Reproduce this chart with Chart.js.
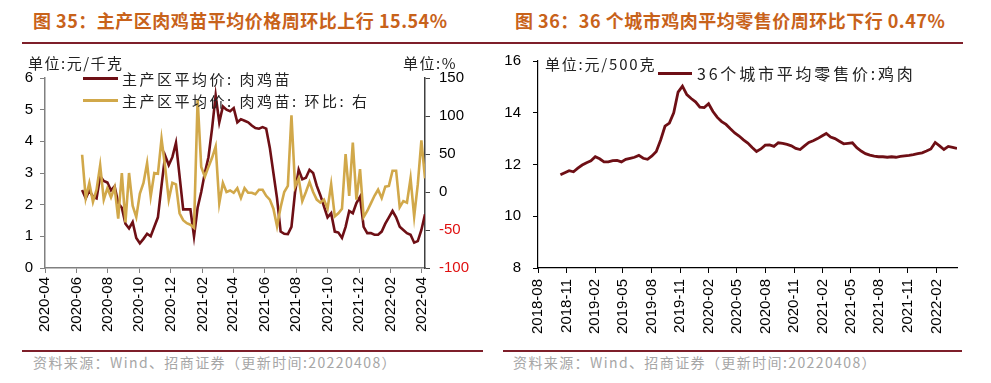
<!DOCTYPE html>
<html><head><meta charset="utf-8">
<script src="https://cdn.jsdelivr.net/npm/chart.js@4.4.1/dist/chart.umd.min.js"></script>
<style>
body{margin:0;width:991px;height:383px;background:#fff;position:relative;overflow:hidden;font-family:"Noto Sans CJK SC",sans-serif;}
.abs{position:absolute;white-space:nowrap;line-height:1;}
.title{font-weight:bold;font-size:18px;letter-spacing:0.5px;color:#C8621A;}
.rule{position:absolute;height:2px;background:#7E1F2A;}
.src{font-size:14px;letter-spacing:1.4px;color:#A6A6A6;}
.unit{font-size:15px;color:#222;letter-spacing:1.5px;}
.leg{font-size:15px;color:#222;letter-spacing:2.5px;}
.sw{position:absolute;height:3px;}
canvas{position:absolute;}
</style></head><body>
<div class="abs title" style="left:33px;top:11px;">图 35：主产区肉鸡苗平均价格周环比上行 15.54%</div>
<div class="abs title" style="left:515px;top:11px;">图 36：36 个城市鸡肉平均零售价周环比下行 0.47%</div>
<div class="rule" style="left:22px;top:42px;width:941px;height:1.5px;"></div>
<div class="rule" style="left:22px;top:350px;width:461px;"></div>
<div class="rule" style="left:503px;top:350px;width:459px;"></div>
<div class="abs src" style="left:33px;top:355px;">资料来源：Wind、招商证券（更新时间:20220408）</div>
<div class="abs src" style="left:513px;top:355px;">资料来源：Wind、招商证券（更新时间:20220408）</div>

<canvas id="c1" width="495" height="300" style="left:0;top:50px;"></canvas>
<canvas id="c2" width="496" height="310" style="left:495px;top:40px;"></canvas>

<div class="abs unit" style="left:28px;top:55px;">单位:元/千克</div>
<div class="abs unit" style="left:403px;top:55px;">单位:%</div>
<div class="sw" style="left:83px;top:77px;width:35px;background:#6E0F15;"></div>
<div class="abs leg" style="left:122px;top:71px;">主产区平均价: 肉鸡苗</div>
<div class="sw" style="left:83px;top:99px;width:35px;background:#D1A84A;"></div>
<div class="abs leg" style="left:122px;top:93px;">主产区平均价: 肉鸡苗: 环比: 右</div>

<div class="abs unit" style="left:545px;top:56px;letter-spacing:1.8px;">单位:元/500克</div>
<div class="sw" style="left:658px;top:72px;width:34px;background:#6E0F15;"></div>
<div class="abs leg" style="left:697px;top:65px;font-size:16px;letter-spacing:2.8px;">36个城市平均零售价:鸡肉</div>

<script>
// ---- Data: left chart (weekly, last week 2022-04-08) ----
const leftTickLabels = ['2020-04','2020-06','2020-08','2020-10','2020-12','2021-02','2021-04','2021-06','2021-08','2021-10','2021-12','2022-02','2022-04'];
const leftLastDate = '2022-04-08';
const chickPrice = [2.46,2.2,2.45,2.25,2.2,2.9,2.75,2.7,2.45,2.58,2.05,1.9,1.4,1.25,1.45,0.95,0.78,0.92,1.08,1.0,
  1.3,1.6,2.6,3.55,3.25,3.5,3.95,2.9,1.85,1.85,1.85,1.0,1.9,2.4,3.0,3.5,4.4,5.45,4.6,5.1,
  5.0,4.95,5.05,4.6,4.7,4.65,4.6,4.5,4.42,4.4,4.45,4.4,3.8,3.0,2.2,1.15,1.08,1.07,1.3,2.4,
  3.1,2.8,2.85,3.1,3.0,2.6,2.3,1.95,1.6,1.73,1.15,1.12,0.95,1.3,1.8,1.73,2.05,2.25,1.3,1.1,
  1.1,1.05,1.05,1.15,1.4,1.6,1.8,1.6,1.3,1.2,1.1,1.05,0.8,0.85,1.2,1.7];
const chickWoW = [49,-8,12,-13,3,35,-10,5,-7,6,-35,25,-40,25,-18,-33,-2,12,38,-6,
  25,24,70,33,-10,12,10,-28,-37,-41,-43,-47,122,33,20,33,45,60,-15,12,
  0,2,-1,5,-8,5,-1,-1,-3,3,3,-5,-10,-22,-45,-20,0,8,101,7,
  18,-12,0,13,0,-10,-14,-10,-22,10,-32,-28,-22,50,-5,65,-10,30,-33,-25,
  -15,-5,3,-8,7,8,28,28,-20,-12,-14,18,-32,10,68,18];

// ---- Data: right chart (every two weeks, last 2022-04-08) ----
const rightTickLabels = ['2018-08','2018-11','2019-02','2019-05','2019-08','2019-11','2020-02','2020-05','2020-08','2020-11','2021-02','2021-05','2021-08','2021-11','2022-02'];
const rightLastDate = '2022-04-08';
const retailPrice = [11.6,11.68,11.76,11.72,11.86,11.98,12.07,12.14,12.3,12.22,12.1,12.1,12.15,12.16,12.1,12.2,12.24,12.28,12.35,12.24,
  12.2,12.33,12.5,12.95,13.48,13.6,14.0,14.8,15.03,14.7,14.55,14.42,14.22,14.2,14.35,14.05,13.82,13.66,13.55,13.38,
  13.22,13.1,12.95,12.83,12.66,12.5,12.6,12.75,12.76,12.7,12.84,12.82,12.78,12.72,12.62,12.58,12.72,12.85,12.92,13.0,
  13.1,13.2,13.06,13.0,12.9,12.8,12.82,12.84,12.65,12.52,12.42,12.36,12.32,12.3,12.3,12.28,12.3,12.28,12.31,12.33,
  12.35,12.38,12.42,12.45,12.52,12.6,12.85,12.72,12.58,12.7,12.66,12.62];

const BROWN = '#6E0F15', GOLD = '#D1A84A';

function dayNum(s){const p=s.split('-').map(Number);return Date.UTC(p[0],p[1]-1,p[2]||1)/864e5;}
function datesBack(last,n,step){const e=dayNum(last);return Array.from({length:n},(_,i)=>e-(n-1-i)*step);}

// left chart
const lBase = dayNum(leftTickLabels[0]);
const lDays = datesBack(leftLastDate, chickPrice.length, 7).map(d=>d-lBase);
const lTicks = leftTickLabels.map(s=>dayNum(s)-lBase);
const lMax = dayNum(leftLastDate)-lBase;

const tickFont = {family:'"Liberation Sans", Arial, sans-serif', size:15};
Chart.defaults.font = tickFont;
Chart.defaults.color = '#000';

new Chart(document.getElementById('c1'), {
  type:'line',
  data:{datasets:[
    {label:'主产区平均价: 肉鸡苗', data:lDays.map((x,i)=>({x,y:chickPrice[i]})), borderColor:BROWN, borderWidth:2.6, pointRadius:0, yAxisID:'y', order:1},
    {label:'主产区平均价: 肉鸡苗: 环比: 右', data:lDays.map((x,i)=>({x,y:chickWoW[i]})), borderColor:GOLD, borderWidth:2.6, pointRadius:0, yAxisID:'y2', order:0}
  ]},
  options:{
    responsive:false, animation:false, devicePixelRatio:1,
    layout:{padding:{top:28,left:0,right:0,bottom:0}},
    plugins:{legend:{display:false}, tooltip:{enabled:false}},
    scales:{
      x:{type:'linear', min:0, max:lMax,
        afterBuildTicks:a=>{a.ticks=lTicks.map(v=>({value:v}));},
        afterFit:a=>{a.height=82;},
        ticks:{autoSkip:false, minRotation:90, maxRotation:90, padding:4, callback:(v)=>leftTickLabels[lTicks.indexOf(v)]},
        grid:{drawOnChartArea:false, tickLength:5, color:'#808080'},
        border:{color:'#808080', width:1.5}
      },
      y:{position:'left', min:0, max:6,
        afterFit:a=>{a.width=45;},
        ticks:{stepSize:1, padding:7},
        grid:{drawOnChartArea:false, tickLength:5, color:'#808080'},
        border:{color:'#808080', width:1.5}
      },
      y2:{position:'right', min:-100, max:150,
        afterFit:a=>{a.width=70;},
        ticks:{stepSize:50, padding:9, color:(c)=>c.tick && c.tick.value<0?'#E01010':'#000'},
        grid:{drawOnChartArea:false, tickLength:5, color:'#404040'},
        border:{color:'#404040', width:1.5}
      }
    }
  }
});

// right chart
const rBase = dayNum(rightTickLabels[0]);
const rDays = datesBack(rightLastDate, retailPrice.length, 14).map(d=>d-rBase);
const rTicks = rightTickLabels.map(s=>dayNum(s)-rBase);
const rMax = dayNum(rightLastDate)-rBase;

new Chart(document.getElementById('c2'), {
  type:'line',
  data:{datasets:[
    {label:'36个城市平均零售价:鸡肉', data:rDays.map((x,i)=>({x,y:retailPrice[i]})), borderColor:BROWN, borderWidth:2.8, pointRadius:0}
  ]},
  options:{
    responsive:false, animation:false, devicePixelRatio:1,
    layout:{padding:{top:17,left:0,right:34,bottom:0}},
    plugins:{legend:{display:false}, tooltip:{enabled:false}},
    scales:{
      x:{type:'linear', min:0, max:rMax,
        afterBuildTicks:a=>{a.ticks=rTicks.map(v=>({value:v}));},
        afterFit:a=>{a.height=82;},
        ticks:{autoSkip:false, minRotation:90, maxRotation:90, padding:6, callback:(v)=>rightTickLabels[rTicks.indexOf(v)]},
        grid:{drawOnChartArea:false, tickLength:5, color:'#000'},
        border:{color:'#000', width:1.2}
      },
      y:{position:'left', min:8, max:16,
        afterFit:a=>{a.width=43;},
        ticks:{stepSize:2, padding:12},
        grid:{drawOnChartArea:false, tickLength:5, color:'#000'},
        border:{color:'#000', width:1.2}
      }
    }
  }
});
</script>
</body></html>
